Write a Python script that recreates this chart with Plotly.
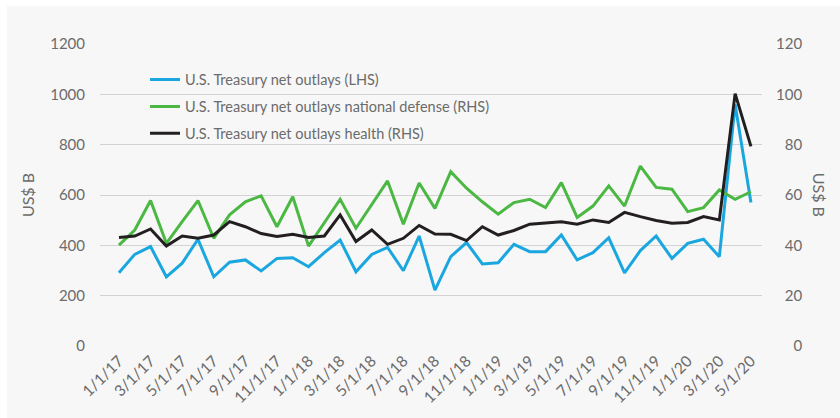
import plotly.graph_objects as go

months = []
for y in (17, 18, 19, 20):
    for m in range(1, 13):
        months.append(f"{m}/1/{y}")
dates = months[:41]

total_outlays = [291, 364, 395, 275, 329, 424, 275, 333, 342, 298,
                 348, 351, 315, 371, 421, 295, 364, 392, 299, 437,
                 222, 355, 411, 326, 331, 404, 375, 375, 441, 342,
                 371, 430, 291, 379, 437, 348, 408, 424, 355, 960, 570]
defense = [40.1, 46.1, 57.8, 40.8, 49.4, 57.8, 42.8, 52.1, 57.3, 59.7,
           47.4, 59.3, 39.7, 49.0, 58.3, 46.8, 56.0, 65.6, 48.4, 64.8,
           54.7, 69.3, 62.7, 57.3, 52.4, 57.0, 58.3, 55.0, 64.9, 51.1,
           55.6, 63.6, 55.6, 71.5, 63.0, 62.3, 53.4, 55.0, 62.0, 58.3, 61.3]
health = [43.1, 43.7, 46.5, 39.7, 43.7, 42.8, 44.1, 49.4, 47.4, 44.7,
          43.5, 44.4, 43.1, 43.7, 52.1, 41.5, 46.1, 40.4, 42.8, 47.9,
          44.5, 44.4, 41.9, 47.4, 44.1, 45.9, 48.4, 48.8, 49.4, 48.4,
          50.1, 49.1, 53.1, 51.4, 49.9, 48.8, 49.1, 51.4, 50.1, 100.3, 79.3]

tick_labels = dates[::2]
left_ticks = [0, 200, 400, 600, 800, 1000, 1200]
right_ticks = [0, 20, 40, 60, 80, 100, 120]
right_tick_text = [str(v).rjust(3, "\u2007") for v in right_ticks]

names = ["U.S. Treasury net outlays (LHS)",
         "U.S. Treasury net outlays national defense (RHS)",
         "U.S. Treasury net outlays health (RHS)"]
colors = ["#1aa7df", "#4bb843", "#231f20"]

font_family = "Lato, 'Open Sans', sans-serif"
gray = "#6b6b6b"
bg = "#f7f7f7"

xs = list(range(len(dates)))
fig = go.Figure()
fig.add_trace(go.Scatter(x=xs, y=total_outlays, name=names[0], mode="lines",
                         line=dict(color=colors[0], width=3), yaxis="y", legendgroup="a"))
fig.add_trace(go.Scatter(x=xs, y=defense, name=names[1], mode="lines",
                         line=dict(color=colors[1], width=3), yaxis="y2", legendgroup="b"))
fig.add_trace(go.Scatter(x=xs, y=health, name=names[2], mode="lines",
                         line=dict(color=colors[2], width=3), yaxis="y2", legendgroup="c"))

fig.update_layout(
    width=833, height=412,
    margin=dict(l=93, r=78, t=38, b=72, autoexpand=False),
    paper_bgcolor=bg, plot_bgcolor=bg,
    font=dict(family=font_family, color=gray, size=14),
    showlegend=True,
    legend=dict(x=0.068, y=0.935, xanchor="left", yanchor="top",
                bgcolor="rgba(0,0,0,0)", font=dict(size=14.5, color=gray),
                tracegroupgap=5, itemwidth=30),
    xaxis=dict(range=[-1.2, 40.7], tickmode="array",
               tickvals=xs[::2], ticktext=tick_labels,
               tickangle=-45, showgrid=False, zeroline=False, showline=False,
               ticklabelstandoff=2,
               automargin=False, tickfont=dict(size=15.5, color=gray)),
    yaxis=dict(range=[0, 1200], tickvals=left_ticks, showgrid=True,
               gridcolor="#d3d3d3", gridwidth=1, zeroline=False,
               ticks="", ticklabelstandoff=14, automargin=False,
               title=dict(text="US$ B", font=dict(size=16, color=gray), standoff=11),
               tickfont=dict(size=15, color=gray)),
    yaxis2=dict(range=[0, 120], tickvals=right_ticks, ticktext=right_tick_text,
                overlaying="y", side="right", automargin=False,
                showgrid=False, zeroline=False, ticklabelstandoff=13,
                tickfont=dict(size=15, color=gray)),
    annotations=[dict(text="US$ B", xref="paper", yref="paper", x=1.088, y=0.5,
                      xanchor="center", yanchor="middle",
                      textangle=90, showarrow=False,
                      font=dict(size=16, color=gray))],
)

fig.write_html("out.html", config={"displayModeBar": False},
               post_script="document.body.style.margin='6px 0 0 7px';"
                           "document.body.style.background='#ffffff';")
